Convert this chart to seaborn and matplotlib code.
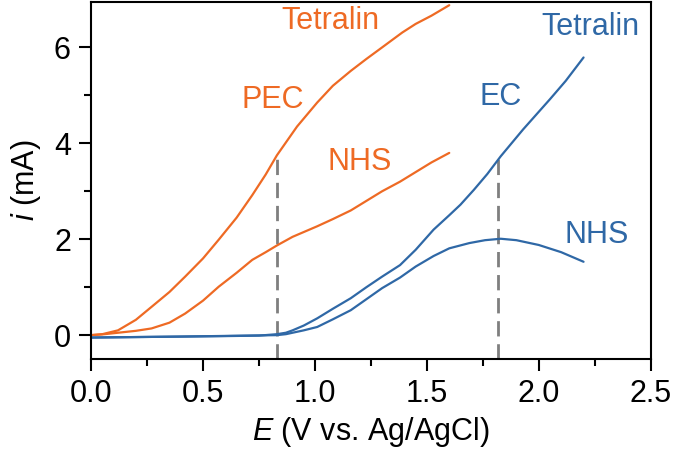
import matplotlib
matplotlib.use("agg")
import matplotlib.pyplot as plt
from matplotlib.ticker import MultipleLocator
import pandas as pd
import seaborn as sns

# PEC curves (orange)
pec_tet_x = [0.0, 0.05, 0.12, 0.2, 0.27, 0.35, 0.42, 0.5, 0.57, 0.65, 0.72, 0.78, 0.83, 0.92, 1.01, 1.08, 1.16, 1.23, 1.30, 1.39, 1.45, 1.52, 1.60]
pec_tet_y = [0.0, 0.02, 0.1, 0.32, 0.59, 0.9, 1.22, 1.6, 1.99, 2.45, 2.92, 3.35, 3.75, 4.35, 4.85, 5.2, 5.51, 5.76, 6.0, 6.31, 6.49, 6.66, 6.88]
pec_nhs_x = [0.0, 0.06, 0.12, 0.2, 0.27, 0.35, 0.42, 0.5, 0.57, 0.65, 0.72, 0.78, 0.83, 0.9, 1.01, 1.08, 1.16, 1.23, 1.30, 1.38, 1.45, 1.52, 1.60]
pec_nhs_y = [0.0, 0.02, 0.05, 0.09, 0.14, 0.26, 0.45, 0.72, 1.01, 1.3, 1.57, 1.73, 1.87, 2.05, 2.27, 2.42, 2.6, 2.8, 3.0, 3.2, 3.4, 3.6, 3.8]

# EC curves (blue)
ec_tet_x = [0.0, 0.2, 0.4, 0.6, 0.75, 0.83, 0.87, 0.9, 0.95, 1.01, 1.08, 1.16, 1.23, 1.30, 1.38, 1.45, 1.53, 1.60, 1.65, 1.71, 1.77, 1.83, 1.93, 2.05, 2.12, 2.20]
ec_tet_y = [-0.05, -0.04, -0.03, -0.02, -0.01, 0.02, 0.05, 0.1, 0.2, 0.35, 0.55, 0.77, 1.0, 1.22, 1.46, 1.78, 2.2, 2.5, 2.72, 3.03, 3.36, 3.73, 4.29, 4.92, 5.3, 5.79]
ec_nhs_x = [0.0, 0.4, 0.83, 0.87, 0.9, 0.95, 1.01, 1.08, 1.16, 1.23, 1.30, 1.38, 1.45, 1.53, 1.60, 1.69, 1.76, 1.83, 1.9, 2.0, 2.1, 2.2]
ec_nhs_y = [-0.05, -0.03, 0.0, 0.02, 0.05, 0.1, 0.17, 0.33, 0.52, 0.75, 0.98, 1.2, 1.43, 1.65, 1.81, 1.92, 1.98, 2.01, 1.98, 1.88, 1.73, 1.53]

# dashed markers
dash_x = [0.83, 1.82]
dash_top = [3.72, 3.70]

orange = "#ee6a24"
blue = "#2f68a6"

frames = []
for name, xs, ys in [("pec_tet", pec_tet_x, pec_tet_y), ("pec_nhs", pec_nhs_x, pec_nhs_y),
                     ("ec_tet", ec_tet_x, ec_tet_y), ("ec_nhs", ec_nhs_x, ec_nhs_y)]:
    frames.append(pd.DataFrame({"E": xs, "i": ys, "curve": name}))
d = pd.concat(frames, ignore_index=True)

sns.set_style("ticks")
plt.rcParams["font.family"] = ["Liberation Sans", "DejaVu Sans"]
plt.rcParams["mathtext.fontset"] = "custom"
plt.rcParams["mathtext.rm"] = "Liberation Sans"
plt.rcParams["mathtext.it"] = "Liberation Sans:italic"
for k in ["axes.edgecolor", "xtick.color", "ytick.color", "text.color", "axes.labelcolor"]:
    plt.rcParams[k] = "black"

fig = plt.figure(figsize=(6.75, 4.61), dpi=100)
ax = fig.add_axes([0.135, 0.221, 0.829, 0.775])

ymin = -0.5
for x, top in zip(dash_x, dash_top):
    ax.plot([x, x], [ymin, top], color="#7f7f7f", lw=2, dashes=(5.5, 2.8), zorder=1)

sns.lineplot(data=d, x="E", y="i", hue="curve", units="curve", estimator=None, sort=False,
             palette={"pec_tet": orange, "pec_nhs": orange, "ec_tet": blue, "ec_nhs": blue},
             legend=False, lw=1.6, ax=ax, zorder=2)

fs = 22
ax.text(1.07, 6.55, "Tetralin", color=orange, fontsize=fs, ha="center", va="center")
ax.text(0.81, 4.9, "PEC", color=orange, fontsize=fs, ha="center", va="center")
ax.text(1.2, 3.6, "NHS", color=orange, fontsize=fs, ha="center", va="center")
ax.text(1.83, 4.96, "EC", color=blue, fontsize=fs, ha="center", va="center")
ax.text(2.23, 6.42, "Tetralin", color=blue, fontsize=fs, ha="center", va="center")
ax.text(2.26, 2.09, "NHS", color=blue, fontsize=fs, ha="center", va="center")

ax.set_xlim(0, 2.5)
ax.set_ylim(ymin, 6.95)
ax.xaxis.set_major_locator(MultipleLocator(0.5))
ax.xaxis.set_minor_locator(MultipleLocator(0.25))
ax.yaxis.set_major_locator(MultipleLocator(2))
ax.yaxis.set_minor_locator(MultipleLocator(1))
ax.xaxis.set_major_formatter(matplotlib.ticker.FormatStrFormatter("%.1f"))
ax.tick_params(which="major", length=8.5, width=1.5, labelsize=fs, pad=6)
ax.tick_params(which="minor", length=5, width=1.5)
for s in ax.spines.values():
    s.set_linewidth(1.5)

ax.set_xlabel(r"$\it{E}$ (V vs. Ag/AgCl)", fontsize=fs, labelpad=4)
ax.set_ylabel(r"$\it{i}$ (mA)", fontsize=fs, labelpad=8)

fig.savefig("out.png", dpi=100)
